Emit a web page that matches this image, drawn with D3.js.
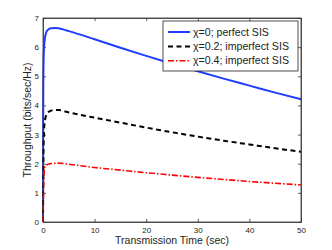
<!DOCTYPE html>
<html>
<head>
<meta charset="utf-8">
<script src="https://cdn.jsdelivr.net/npm/d3@7"></script>
<style>
  body { margin: 0; background: #fff; }
  svg text { font-family: "Liberation Sans", Arial, sans-serif; fill: #222; }
  .axis text { font-size: 8px; }
  .axis line, .axis path { stroke: #333; stroke-width: 0.8px; }
</style>
</head>
<body>
<div id="chart"></div>
<script>
// transmission time (sec)
const timeBlue  = [0, 0.05, 0.15, 0.3, 0.6, 1, 1.5, 2.5, 4, 5, 10, 15, 20, 25, 30, 35, 40, 45, 50];
const tputBlue  = [0, 4.5, 5.8, 6.2, 6.5, 6.6, 6.65, 6.66, 6.6, 6.55, 6.27, 5.98, 5.70, 5.43, 5.17, 4.92, 4.68, 4.44, 4.21];

const timeBlack = [0, 0.1, 0.3, 0.6, 1, 2, 3, 5, 10, 15, 20, 25, 30, 35, 40, 45, 50];
const tputBlack = [0, 2.5, 3.4, 3.65, 3.77, 3.84, 3.84, 3.76, 3.58, 3.41, 3.24, 3.08, 2.93, 2.79, 2.66, 2.53, 2.41];

const timeRed   = [0, 0.1, 0.3, 0.6, 1, 2, 3, 5, 10, 15, 20, 25, 30, 35, 40, 45, 50];
const tputRed   = [0, 1.0, 1.85, 1.95, 1.98, 2.01, 2.02, 1.98, 1.87, 1.78, 1.69, 1.61, 1.53, 1.46, 1.39, 1.33, 1.27];

const seriesNames = ['χ=0; perfect SIS', 'χ=0.2; imperfect SIS', 'χ=0.4; imperfect SIS'];
const xTicks = [0, 10, 20, 30, 40, 50];
const yTicks = [0, 1, 2, 3, 4, 5, 6, 7];

const width = 332, height = 250;
const margin = {top: 18, right: 31, bottom: 28, left: 43};
const w = width - margin.left - margin.right;
const h = height - margin.top - margin.bottom;

const svg = d3.select('#chart').append('svg')
    .attr('width', width)
    .attr('height', height);

const chart = svg.append('g')
    .attr('transform', `translate(${margin.left},${margin.top})`);

const x = d3.scaleLinear().domain([0, 50]).range([0, w]);
const y = d3.scaleLinear().domain([0, 7]).range([h, 0]);

// axes with inward ticks on all four sides
chart.append('g').attr('class', 'axis')
    .attr('transform', `translate(0,${h})`)
    .call(d3.axisBottom(x).tickValues(xTicks).tickFormat(d3.format('d')).tickSize(-3).tickPadding(5).tickSizeOuter(0));
chart.append('g').attr('class', 'axis')
    .call(d3.axisTop(x).tickValues(xTicks).tickSize(-3).tickFormat('').tickSizeOuter(0));
chart.append('g').attr('class', 'axis')
    .call(d3.axisLeft(y).tickValues(yTicks).tickFormat(d3.format('d')).tickSize(-3).tickPadding(4).tickSizeOuter(0));
chart.append('g').attr('class', 'axis')
    .attr('transform', `translate(${w},0)`)
    .call(d3.axisRight(y).tickValues(yTicks).tickSize(-3).tickFormat('').tickSizeOuter(0));

const series = [
    {xs: timeBlue,  ys: tputBlue,  color: '#1f3cff', dash: null,      sw: 2},
    {xs: timeBlack, ys: tputBlack, color: '#000',    dash: '5,3.5',   sw: 2},
    {xs: timeRed,   ys: tputRed,   color: '#ff0000', dash: '6,2,1.5,2', sw: 1.6}
];

const line = d3.line()
    .x(d => x(d[0]))
    .y(d => y(d[1]))
    .curve(d3.curveMonotoneX);

series.forEach(s => {
    chart.append('path')
        .datum(s.xs.map((t, i) => [t, s.ys[i]]))
        .attr('fill', 'none')
        .attr('stroke', s.color)
        .attr('stroke-width', s.sw)
        .attr('stroke-dasharray', s.dash)
        .attr('d', line);
});

// frame
chart.append('rect')
    .attr('width', w).attr('height', h)
    .attr('fill', 'none').attr('stroke', '#333').attr('stroke-width', 0.8);

// legend
const lg = svg.append('g').attr('transform', 'translate(163,21)');
lg.append('rect')
    .attr('width', 135).attr('height', 50)
    .attr('fill', '#fff').attr('stroke', '#222').attr('stroke-width', 0.8);
series.forEach((s, i) => {
    const yy = 11 + i * 14.4;
    lg.append('line')
        .attr('x1', 5).attr('x2', 27).attr('y1', yy).attr('y2', yy)
        .attr('stroke', s.color).attr('stroke-width', s.sw)
        .attr('stroke-dasharray', s.dash);
    lg.append('text')
        .attr('x', 30).attr('y', yy + 3.5)
        .style('font-size', '10.6px')
        .text(seriesNames[i]);
});

// axis titles
svg.append('text')
    .attr('x', margin.left + w / 2).attr('y', 244)
    .attr('text-anchor', 'middle')
    .style('font-size', '10.5px')
    .text('Transmission Time (sec)');

svg.append('text')
    .attr('transform', `translate(31,${margin.top + h / 2}) rotate(-90)`)
    .attr('text-anchor', 'middle')
    .style('font-size', '10.5px')
    .text('Throughput (bits/sec/Hz)');
</script>
</body>
</html>
